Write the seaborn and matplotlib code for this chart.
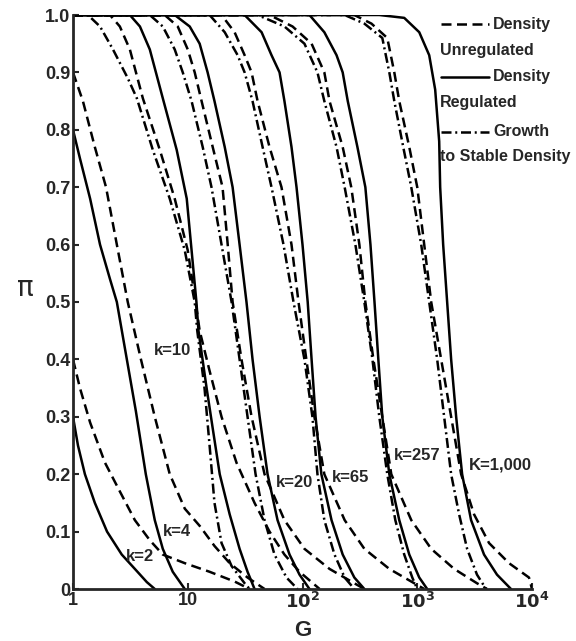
import numpy as np
import pandas as pd
import matplotlib
matplotlib.use('Agg')
import matplotlib.pyplot as plt
import seaborn as sns
from matplotlib.lines import Line2D

# values: G (log axis) and pi for each k and model
k2_reg_G = [1.0, 1.105, 1.27, 1.55, 1.98, 2.66, 3.46, 4.40, 5.16]
k2_reg_pi = [0.30, 0.25, 0.20, 0.15, 0.10, 0.06, 0.035, 0.012, 0.0]
k2_unreg_G = [1.0, 1.15, 1.41, 1.90, 2.56, 3.46, 4.67, 6.06, 9.42, 15.5, 25.6, 34.6]
k2_unreg_pi = [0.40, 0.35, 0.29, 0.22, 0.17, 0.12, 0.085, 0.06, 0.045, 0.03, 0.013, 0.0]

k4_reg_G = [1.0, 1.15, 1.41, 1.72, 2.10, 2.41, 2.83, 3.53, 4.31, 5.16, 6.06, 7.40, 9.42]
k4_reg_pi = [0.80, 0.75, 0.68, 0.60, 0.54, 0.50, 0.42, 0.31, 0.20, 0.12, 0.07, 0.03, 0.0]
k4_unreg_G = [1.0, 1.22, 1.55, 1.94, 2.41, 3.00, 3.91, 5.16, 6.97, 9.42, 12.7, 17.1, 23.2, 33.2, 46.7]
k4_unreg_pi = [0.90, 0.85, 0.77, 0.70, 0.60, 0.50, 0.40, 0.30, 0.20, 0.14, 0.11, 0.075, 0.045, 0.02, 0.0]

k10_grow_G = [1.0, 1.35, 1.72, 2.23, 3.00, 3.60, 4.96, 6.97, 9.42, 11.5, 12.1, 14.0, 15.5, 17.1, 19.7, 24.1, 31.3, 34.6]
k10_grow_pi = [1.0, 1.0, 0.98, 0.94, 0.89, 0.855, 0.765, 0.68, 0.59, 0.50, 0.45, 0.35, 0.25, 0.15, 0.08, 0.04, 0.01, 0.0]
k10_unreg_G = [1.0, 2.10, 2.56, 3.13, 4.06, 5.71, 7.70, 10.0, 11.7, 12.7, 15.5, 19.7, 26.6, 38.2, 51.6, 69.6, 94.2, 141]
k10_unreg_pi = [1.0, 1.0, 0.98, 0.94, 0.855, 0.765, 0.68, 0.59, 0.50, 0.45, 0.38, 0.30, 0.22, 0.15, 0.10, 0.06, 0.03, 0.0]
k10_reg_G = [1.0, 3.13, 3.83, 4.67, 6.06, 8.01, 9.80, 10.8, 11.9, 12.4, 14.6, 16.5, 19.0, 23.2, 28.3, 33.2, 38.2]
k10_reg_pi = [1.0, 1.0, 0.98, 0.94, 0.855, 0.765, 0.68, 0.59, 0.50, 0.45, 0.35, 0.28, 0.20, 0.13, 0.07, 0.03, 0.0]

k20_grow_G = [1.0, 4.67, 6.06, 7.70, 9.05, 10.8, 13.5, 16.1, 19.7, 24.1, 28.3, 33.2, 39.0, 46.7, 57.0, 72.5, 90.5]
k20_grow_pi = [1.0, 1.0, 0.98, 0.94, 0.90, 0.85, 0.77, 0.70, 0.60, 0.50, 0.40, 0.30, 0.20, 0.12, 0.06, 0.02, 0.0]
k20_unreg_G = [1.0, 6.30, 8.18, 10.0, 11.5, 13.2, 16.5, 20.1, 22.3, 24.6, 29.4, 36.0, 46.7, 69.6, 104, 172, 283, 346]
k20_unreg_pi = [1.0, 1.0, 0.98, 0.94, 0.90, 0.85, 0.77, 0.70, 0.60, 0.50, 0.40, 0.30, 0.20, 0.12, 0.07, 0.035, 0.01, 0.0]
k20_reg_G = [1.0, 7.70, 10.4, 12.7, 14.9, 17.1, 21.0, 24.6, 28.3, 32.5, 36.7, 42.3, 49.6, 60.6, 77.1, 94.2, 115]
k20_reg_pi = [1.0, 1.0, 0.98, 0.95, 0.90, 0.85, 0.77, 0.70, 0.60, 0.50, 0.40, 0.30, 0.20, 0.12, 0.06, 0.025, 0.0]

k65_grow_G = [1.0, 15.5, 21.0, 27.2, 31.3, 36.7, 44.9, 53.7, 68.3, 83.5, 104, 122, 135, 155, 190, 233, 283]
k65_grow_pi = [1.0, 1.0, 0.97, 0.93, 0.90, 0.85, 0.77, 0.70, 0.60, 0.50, 0.40, 0.30, 0.20, 0.12, 0.06, 0.02, 0.0]
k65_unreg_G = [1.0, 19.7, 25.6, 31.3, 36.0, 40.6, 51.6, 65.6, 80.2, 92.3, 108, 127, 155, 233, 346, 571, 942, 1150]
k65_unreg_pi = [1.0, 1.0, 0.97, 0.93, 0.90, 0.85, 0.77, 0.70, 0.60, 0.50, 0.40, 0.30, 0.20, 0.12, 0.07, 0.035, 0.01, 0.0]
k65_reg_G = [1.0, 31.3, 44.0, 53.7, 63.1, 69.6, 80.2, 88.7, 100, 111, 120, 130, 146, 179, 224, 283, 346]
k65_reg_pi = [1.0, 1.0, 0.97, 0.93, 0.90, 0.85, 0.77, 0.70, 0.60, 0.50, 0.40, 0.30, 0.20, 0.12, 0.06, 0.02, 0.0]

k257_grow_G = [1.0, 40.6, 69.6, 104, 135, 155, 198, 233, 289, 346, 407, 467, 548, 644, 770, 905, 1000]
k257_grow_pi = [1.0, 1.0, 0.98, 0.95, 0.90, 0.85, 0.77, 0.70, 0.60, 0.50, 0.40, 0.30, 0.20, 0.12, 0.06, 0.02, 0.0]
k257_unreg_G = [1.0, 51.6, 81.9, 120, 155, 172, 224, 266, 313, 353, 415, 496, 594, 887, 1323, 2097, 3316, 4056]
k257_unreg_pi = [1.0, 1.0, 0.98, 0.95, 0.90, 0.85, 0.77, 0.70, 0.60, 0.50, 0.40, 0.30, 0.20, 0.12, 0.07, 0.035, 0.01, 0.0]
k257_reg_G = [1.0, 115, 155, 198, 224, 248, 301, 353, 391, 424, 458, 496, 571, 697, 852, 1041, 1221]
k257_reg_pi = [1.0, 1.0, 0.97, 0.93, 0.90, 0.85, 0.77, 0.70, 0.60, 0.50, 0.40, 0.30, 0.20, 0.12, 0.06, 0.02, 0.0]

k1000_grow_G = [1.0, 233, 346, 496, 571, 631, 755, 887, 1083, 1271, 1492, 1716, 1974, 2317, 2720, 3316, 3976]
k1000_grow_pi = [1.0, 1.0, 0.985, 0.96, 0.90, 0.85, 0.77, 0.70, 0.60, 0.50, 0.40, 0.30, 0.20, 0.13, 0.07, 0.025, 0.0]
k1000_unreg_G = [1.0, 283, 399, 548, 631, 697, 852, 1000, 1150, 1323, 1616, 1974, 2412, 3127, 4226, 6306, 9413, 10000]
k1000_unreg_pi = [1.0, 1.0, 0.985, 0.96, 0.90, 0.85, 0.77, 0.70, 0.60, 0.50, 0.40, 0.30, 0.20, 0.13, 0.08, 0.045, 0.02, 0.0]
k1000_reg_G = [1.0, 467, 770, 1041, 1271, 1433, 1553, 1584, 1682, 1822, 1974, 2183, 2461, 2945, 3820, 4953, 6560]
k1000_reg_pi = [1.0, 1.0, 0.995, 0.97, 0.93, 0.87, 0.78, 0.70, 0.60, 0.50, 0.40, 0.30, 0.20, 0.12, 0.06, 0.025, 0.0]

curves = [
    ('2', 'unreg', k2_unreg_G, k2_unreg_pi), ('2', 'reg', k2_reg_G, k2_reg_pi),
    ('4', 'unreg', k4_unreg_G, k4_unreg_pi), ('4', 'reg', k4_reg_G, k4_reg_pi),
    ('10', 'unreg', k10_unreg_G, k10_unreg_pi), ('10', 'reg', k10_reg_G, k10_reg_pi), ('10', 'grow', k10_grow_G, k10_grow_pi),
    ('20', 'unreg', k20_unreg_G, k20_unreg_pi), ('20', 'reg', k20_reg_G, k20_reg_pi), ('20', 'grow', k20_grow_G, k20_grow_pi),
    ('65', 'unreg', k65_unreg_G, k65_unreg_pi), ('65', 'reg', k65_reg_G, k65_reg_pi), ('65', 'grow', k65_grow_G, k65_grow_pi),
    ('257', 'unreg', k257_unreg_G, k257_unreg_pi), ('257', 'reg', k257_reg_G, k257_reg_pi), ('257', 'grow', k257_grow_G, k257_grow_pi),
    ('1000', 'unreg', k1000_unreg_G, k1000_unreg_pi), ('1000', 'reg', k1000_reg_G, k1000_reg_pi), ('1000', 'grow', k1000_grow_G, k1000_grow_pi),
]

labels = ['k=2', 'k=4', 'k=10', 'k=20', 'k=65', 'k=257', 'K=1,000']
label_G = [3.8, 8.0, 7.3, 85, 262, 1000, 5300]
label_pi = [0.056, 0.10, 0.415, 0.185, 0.195, 0.232, 0.216]

xtick_vals = [1, 10, 100, 1000, 10000]
xtick_labels = ['1', '10', '$\\mathbf{10^2}$', '$\\mathbf{10^3}$', '$\\mathbf{10^4}$']
ytick_vals = [0, 0.1, 0.2, 0.3, 0.4, 0.5, 0.6, 0.7, 0.8, 0.9, 1.0]
ytick_labels = ['0', '0.1', '0.2', '0.3', '0.4', '0.5', '0.6', '0.7', '0.8', '0.9', '1.0']

rows = []
for k, model, gs, ps in curves:
    for g, p in zip(gs, ps):
        rows.append({'G': g, 'pi': p, 'k': k, 'model': model})
df = pd.DataFrame(rows)

sns.set_style('ticks')
plt.rcParams['font.family'] = ['Liberation Sans', 'DejaVu Sans']

fig = plt.figure(figsize=(5.76, 6.41), dpi=100)
ax = fig.add_axes([73 / 576, 52 / 641, 459 / 576, 574 / 641])

dash_map = {'unreg': (4, 2.2), 'reg': '', 'grow': (4, 1.5, 0.8, 1.5)}
sns.lineplot(data=df, x='G', y='pi', style='model', units='k', estimator=None,
             color='black', dashes=dash_map, lw=1.8, legend=False, ax=ax)

ax.set_xscale('log')
ax.set_xlim(1, 10000)
ax.set_ylim(0, 1.0)
ax.set_xticks(xtick_vals)
ax.set_xticklabels(xtick_labels)
ax.set_yticks(ytick_vals)
ax.set_yticklabels(ytick_labels)
ax.minorticks_off()
ax.tick_params(direction='in', length=4, width=1.5, labelsize=13, pad=2)
for t in ax.get_xticklabels() + ax.get_yticklabels():
    t.set_fontweight('bold')
sns.despine(ax=ax)
ax.spines['left'].set_linewidth(2.0)
ax.spines['bottom'].set_linewidth(2.0)

ax.set_xlabel('G', fontsize=16, fontweight='bold', labelpad=6)
ax.set_ylabel('π', fontsize=20, rotation=0, labelpad=14, fontfamily='DejaVu Sans')

for lab, g, p in zip(labels, label_G, label_pi):
    ax.text(g, p, lab, fontsize=12, fontweight='bold', ha='center', va='center')

# legend drawn by hand: key line, first word, second line underneath
W, H = 576, 641
leg = [((4, 2.2), 24, 'Density', 50, 'Unregulated'),
       ('', 77, 'Density', 103, 'Regulated'),
       ((4, 1.5, 0.8, 1.5), 132, 'Growth', 157, 'to Stable Density')]
for dash, yk, word, y2, line2 in leg:
    ln = Line2D([441 / W, 489 / W], [1 - yk / H, 1 - yk / H], transform=fig.transFigure,
                color='black', lw=1.8)
    if dash:
        ln.set_dashes(dash)
    fig.lines.append(ln)
    fig.text(493 / W, 1 - yk / H, word, fontsize=11.5, fontweight='bold', va='center', ha='left')
    fig.text(440 / W, 1 - y2 / H, line2, fontsize=11.5, fontweight='bold', va='center', ha='left')

fig.savefig('out.png', dpi=100)
